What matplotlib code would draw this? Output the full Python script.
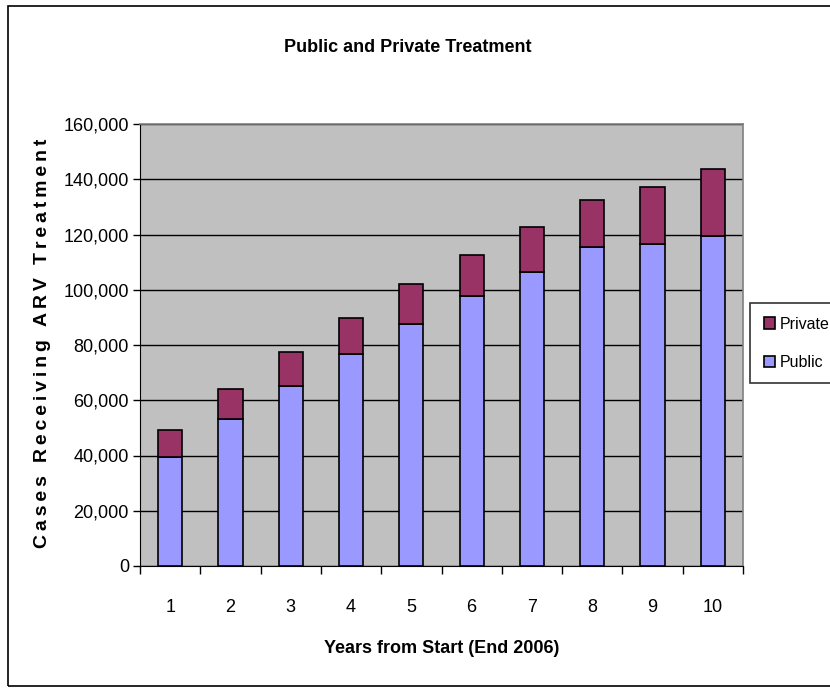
import matplotlib.pyplot as plt
from matplotlib.patches import Rectangle
from matplotlib.ticker import FuncFormatter, MultipleLocator
import numpy as np

# Cases receiving ARV treatment per year, split by sector
years = [1, 2, 3, 4, 5, 6, 7, 8, 9, 10]
public = [39400, 53300, 65300, 76700, 87500, 97600, 106300, 115300, 116500, 119500]
private = [9700, 10700, 12100, 13200, 14500, 15000, 16400, 17100, 20800, 24100]

plt.rcParams["font.family"] = ["Liberation Sans", "DejaVu Sans"]

# Creating the figure
fig = plt.figure(figsize=(8.3, 6.88), dpi=100)
ax = fig.add_axes([140 / 830, 1 - 566 / 688, (743 - 140) / 830, (566 - 124) / 688])

# Outer chart border
fig.patches.append(Rectangle((8 / 830, 2 / 688), 1.0, 1 - 8 / 688, transform=fig.transFigure,
                             fill=False, edgecolor="black", linewidth=1.2))

x = np.arange(len(years))
ax.bar(x, public, width=0.4, color="#9999FF", edgecolor="black", linewidth=1.2, label="Public", zorder=3)
ax.bar(x, private, width=0.4, bottom=public, color="#993366", edgecolor="black", linewidth=1.2,
       label="Private", zorder=3)

# Customizing axis
ax.set_facecolor("#C0C0C0")
ax.set_xlim(-0.5, len(years) - 0.5)
ax.set_ylim(0, 160000)
ax.yaxis.set_major_locator(MultipleLocator(20000))
ax.yaxis.set_major_formatter(FuncFormatter(lambda v, p: "{:,.0f}".format(v)))
ax.grid(axis="y", color="black", linewidth=1, zorder=1)
ax.set_axisbelow(True)

ax.set_xticks(x)
ax.set_xticklabels([str(y) for y in years])
ax.set_xticks(np.arange(-0.5, len(years), 1.0), minor=True)
ax.tick_params(axis="x", which="major", length=0, pad=24, labelsize=13)
ax.tick_params(axis="x", which="minor", length=6, width=1, direction="out")
ax.tick_params(axis="y", length=5, width=1, direction="out", labelsize=13, pad=3)

for side in ["top", "right"]:
    ax.spines[side].set_color("#808080")
    ax.spines[side].set_linewidth(1.2)
ax.spines["left"].set_color("black")
ax.spines["bottom"].set_color("black")

ax.set_xlabel("Years from Start (End 2006)", fontsize=13, fontweight="bold", labelpad=17)
fig.text(43 / 830, 1 - 343 / 688, "\u2009".join("Cases Receiving ARV Treatment"),
         rotation=90, ha="center", va="center", fontsize=14, fontweight="bold")

fig.text(408 / 830, 1 - 47 / 688, "Public and Private Treatment", ha="center", va="center",
         fontsize=13, fontweight="bold")

# Legend, Private listed first
handles, labels = ax.get_legend_handles_labels()
leg = fig.legend(handles[::-1], labels[::-1], loc="upper left",
                 bbox_to_anchor=(750 / 830, 1 - 303 / 688), fontsize=11.5, frameon=True,
                 fancybox=False, edgecolor="black", handlelength=0.7, handleheight=0.7,
                 handletextpad=0.3, labelspacing=1.45, borderpad=0.85, borderaxespad=0)
leg.get_frame().set_linewidth(1.2)

fig.savefig("out.png", dpi=100)
